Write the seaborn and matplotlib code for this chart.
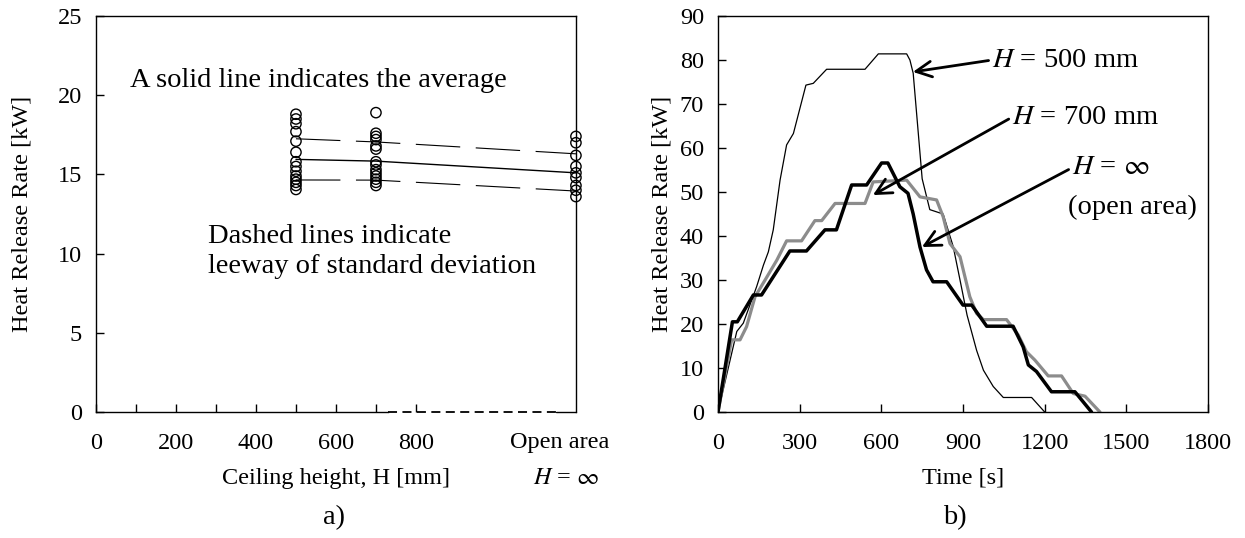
import matplotlib
matplotlib.use('Agg')
import matplotlib.pyplot as plt
import seaborn as sns
import pandas as pd

# a) HRR vs ceiling height (open area drawn at the right edge)
ceiling_pos = [500, 700, 1200]
hrr_500 = [18.8, 18.5, 18.2, 17.7, 17.1, 16.4, 15.8, 15.5, 15.2, 14.9, 14.7, 14.5, 14.3, 14.05]
hrr_700 = [18.9, 17.6, 17.4, 17.2, 16.8, 16.6, 15.8, 15.6, 15.3, 15.1, 14.9, 14.7, 14.5, 14.3]
hrr_open = [17.4, 17.0, 16.2, 15.5, 15.1, 14.8, 14.3, 14.0, 13.6]
mean_hrr = [15.95, 15.84, 15.1]
upper_sd = [17.25, 17.05, 16.3]
lower_sd = [14.65, 14.64, 13.95]
xticks_a = [0, 200, 400, 600, 800]
minor_a = [100, 300, 500, 700]

# b) HRR time histories
t_500 = [0, 69, 93, 142, 167, 185, 203, 228, 252, 277, 323, 350, 399, 540, 589, 693, 705, 717,
         750, 778, 827, 864, 889, 915, 950, 975, 1011, 1048, 1152, 1200]
q_500 = [0, 18.3, 20.2, 28.5, 33.4, 36.4, 41.4, 52.7, 60.7, 63.3, 74.3, 74.7, 77.9, 77.9, 81.4, 81.4, 80, 77,
         53, 46, 45, 37.6, 30, 22, 14, 9.5, 5.8, 3.3, 3.3, 0]
t_700 = [0, 50, 81, 105, 136, 173, 216, 252, 307, 356, 381, 430, 540, 570, 693, 742, 803, 827, 852,
         889, 925, 950, 975, 1060, 1103, 1133, 1164, 1213, 1262, 1305, 1348, 1403]
q_700 = [0, 16.4, 16.4, 19.4, 26.2, 30, 34.5, 38.9, 38.9, 43.5, 43.5, 47.4, 47.4, 52.3, 52.7, 48.9, 48.2, 44.4, 38.3,
         35.3, 26.2, 22.4, 21, 21, 17.5, 13.7, 11.8, 8.2, 8.2, 4.2, 3.6, 0]
t_open = [0, 53, 71, 130, 160, 264, 325, 393, 435, 491, 546, 601, 624, 668, 698, 717, 742, 766, 790,
          840, 900, 932, 987, 1084, 1121, 1140, 1170, 1225, 1311, 1372]
q_open = [0, 20.5, 20.5, 26.6, 26.6, 36.6, 36.6, 41.4, 41.4, 51.6, 51.6, 56.6, 56.6, 51.2, 49.7, 45, 37.5, 32.3, 29.6,
          29.6, 24.3, 24.3, 19.5, 19.5, 14.8, 10.7, 9.2, 4.6, 4.6, 0]
xticks_b = [0, 300, 600, 900, 1200, 1500, 1800]
yticks_b = [0, 10, 20, 30, 40, 50, 60, 70, 80, 90]

sns.set_theme(style='ticks')
plt.rcParams['font.family'] = ['Liberation Serif', 'DejaVu Serif']
plt.rcParams['mathtext.fontset'] = 'stix'
plt.rcParams['axes.linewidth'] = 1.0
plt.rcParams['axes.edgecolor'] = 'black'
plt.rcParams['text.color'] = 'black'
plt.rcParams['axes.labelcolor'] = 'black'

FS_TICK = 17.5
FS_NOTE = 20.5

fig = plt.figure(figsize=(12.45, 5.38), dpi=100)
ax1 = fig.add_axes([0.0771, 0.2342, 0.3855, 0.736])
ax2 = fig.add_axes([0.5767, 0.2342, 0.3936, 0.736])

# ---- panel a ----
pts = pd.DataFrame({
    'H': [ceiling_pos[0]] * len(hrr_500) + [ceiling_pos[1]] * len(hrr_700) + [ceiling_pos[2]] * len(hrr_open),
    'HRR': hrr_500 + hrr_700 + hrr_open,
})
sns.lineplot(x=ceiling_pos, y=mean_hrr, color='black', lw=1.0, ax=ax1)
sns.lineplot(x=ceiling_pos, y=upper_sd, color='black', lw=0.8, ax=ax1)
sns.lineplot(x=ceiling_pos, y=lower_sd, color='black', lw=0.8, ax=ax1)
for ln in ax1.lines[1:]:
    ln.set_linestyle((0, (40, 14)))
sns.scatterplot(data=pts, x='H', y='HRR', marker='o', s=55, facecolor='none',
                edgecolor='black', linewidth=1.0, ax=ax1, clip_on=False, zorder=3)

ax1.set_xlim(0, 1200)
ax1.set_ylim(0, 25)
ax1.set_xticks(xticks_a)
ax1.set_xticks(minor_a, minor=True)
ax1.set_yticks([0, 5, 10, 15, 20, 25])
ax1.tick_params(axis='both', which='both', direction='in', length=6, width=1,
                labelsize=FS_TICK, pad=10, colors='black')
ax1.tick_params(axis='x', which='both', pad=15)
ax1.set_xlabel('Ceiling height, H [mm]', fontsize=FS_TICK, labelpad=10)
ax1.set_ylabel('Heat Release Rate [kW]', fontsize=FS_TICK, labelpad=18)

# broken bottom axis between the last tick and the open area
ax1.spines['bottom'].set_bounds(0, 730)
ax1.plot([730, 1150], [0, 0], color='black', lw=1.3, ls=(0, (5, 3)), clip_on=False)
ax1.plot([1150, 1200], [0, 0], color='black', lw=1.0, clip_on=False)

ax1.text(85, 20.96, 'A solid line indicates the average', fontsize=FS_NOTE, ha='left', va='center')
ax1.text(280, 10.13, 'Dashed lines indicate\nleeway of standard deviation', fontsize=FS_NOTE,
         ha='left', va='center', linespacing=1.3)
trans = ax1.get_xaxis_transform()
ax1.text(1160, -0.076, 'Open area', fontsize=FS_TICK, ha='center', va='center', transform=trans)
ax1.text(1175, -0.167, '$H$ = $\\infty$', fontsize=FS_TICK, ha='center', va='center', transform=trans)

# ---- panel b ----
sns.lineplot(x=t_500, y=q_500, color='black', lw=0.9, ax=ax2)
sns.lineplot(x=t_700, y=q_700, color='#8c8c8c', lw=2.3, ax=ax2)
sns.lineplot(x=t_open, y=q_open, color='black', lw=2.5, ax=ax2)

ax2.set_xlim(0, 1800)
ax2.set_ylim(0, 90)
ax2.set_xticks(xticks_b)
ax2.set_yticks(yticks_b)
ax2.tick_params(axis='both', direction='in', length=6, width=1,
                labelsize=FS_TICK, pad=10, colors='black')
ax2.tick_params(axis='x', pad=15)
ax2.set_xlabel('Time [s]', fontsize=FS_TICK, labelpad=10)
ax2.set_ylabel('Heat Release Rate [kW]', fontsize=FS_TICK, labelpad=5)

arrow = dict(arrowstyle='->', relpos=(0, 0.5), shrinkA=0, shrinkB=0, lw=2.0,
             mutation_scale=28, color='black')
ax2.annotate('$H$ = 500 mm', xy=(716, 77.3), xytext=(1006, 80), fontsize=FS_NOTE,
             ha='left', va='center', arrowprops=arrow)
ax2.annotate('$H$ = 700 mm', xy=(569, 49.3), xytext=(1080, 67), fontsize=FS_NOTE,
             ha='left', va='center', arrowprops=arrow)
ax2.annotate('$H$ = $\\infty$', xy=(749, 37.5), xytext=(1300, 55.5), fontsize=FS_NOTE,
             ha='left', va='center', arrowprops=arrow)
ax2.text(1286, 46.6, '(open area)', fontsize=FS_NOTE, ha='left', va='center')

fig.text(334 / 1245, 1 - 518 / 538, 'a)', fontsize=FS_NOTE, ha='center', va='center')
fig.text(955 / 1245, 1 - 518 / 538, 'b)', fontsize=FS_NOTE, ha='center', va='center')

fig.savefig('out.png', dpi=100)
